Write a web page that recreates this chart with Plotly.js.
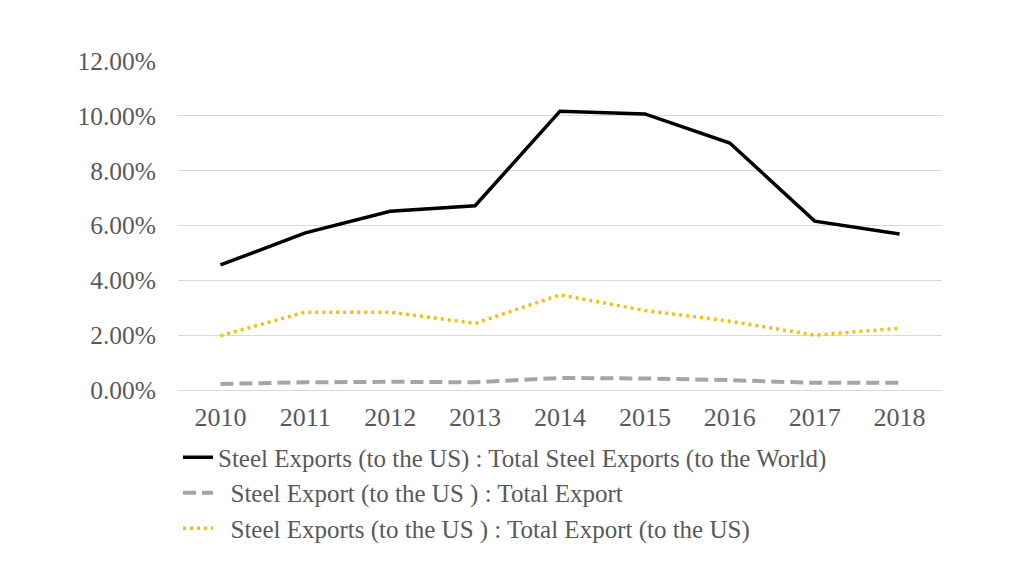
<!DOCTYPE html>
<html>
<head>
<meta charset="utf-8">
<script src="https://cdn.plot.ly/plotly-3.0.1.min.js"></script>
<style>html,body{margin:0;padding:0;background:#fff;}#chart{width:1024px;height:576px;}</style>
</head>
<body>
<div id="chart"></div>
<script>
const years = ["2010","2011","2012","2013","2014","2015","2016","2017","2018"];
const steelToWorld = [0.0456, 0.0573, 0.0652, 0.0672, 0.1017, 0.1007, 0.0901, 0.0616, 0.0569];
const steelToTotal = [0.0022, 0.0028, 0.0030, 0.0028, 0.0044, 0.0042, 0.0036, 0.0026, 0.0026];
const steelToUSTotal = [0.0198, 0.0284, 0.0284, 0.0243, 0.0347, 0.0290, 0.0251, 0.0200, 0.0225];
const names = [
  "Steel Exports (to the US) : Total Steel Exports (to the World)",
  "  Steel Export (to the US ) : Total Export",
  "  Steel Exports (to the US ) : Total Export (to the US)"
];
const FONT = "'Liberation Serif', 'Times New Roman', Times, 'DejaVu Serif', serif";
const traces = [
  {x: years, y: steelToWorld, name: names[0], type: "scatter", mode: "lines",
   line: {color: "#000000", width: 3.5}},
  {x: years, y: steelToTotal, name: names[1], type: "scatter", mode: "lines",
   line: {color: "#a5a5a5", width: 4, dash: "13px,6px"}},
  {x: years, y: steelToUSTotal, name: names[2], type: "scatter", mode: "lines",
   line: {color: "#f2c010", width: 3.5, dash: "3px,4px"}}
];
const layout = {
  width: 1024, height: 576,
  margin: {l: 177.5, r: 81.5, t: 61, b: 186},
  paper_bgcolor: "#ffffff", plot_bgcolor: "#ffffff",
  font: {family: FONT, size: 26, color: "#595959"},
  showlegend: true,
  xaxis: {type: "category", range: [-0.5, 8.5], showgrid: false, zeroline: false, showline: false,
          ticks: "", ticklabelstandoff: 9, tickfont: {family: FONT, size: 26, color: "#595959"}},
  yaxis: {range: [0, 0.12], dtick: 0.02, tickformat: ".2%", showgrid: true,
          gridcolor: "#d9d9d9", gridwidth: 1, zeroline: true, zerolinecolor: "#d9d9d9",
          zerolinewidth: 1, showline: false, ticks: "", ticklabelstandoff: 21,
          tickfont: {family: FONT, size: 25.5, color: "#595959"}},
  legend: {x: 0.0, xanchor: "left", y: -0.135, yanchor: "top", orientation: "v",
           font: {family: FONT, size: 25, color: "#595959"}, itemwidth: 30,
           bgcolor: "rgba(0,0,0,0)"}
};
Plotly.newPlot("chart", traces, layout, {displayModeBar: false, staticPlot: true});
</script>
</body>
</html>
